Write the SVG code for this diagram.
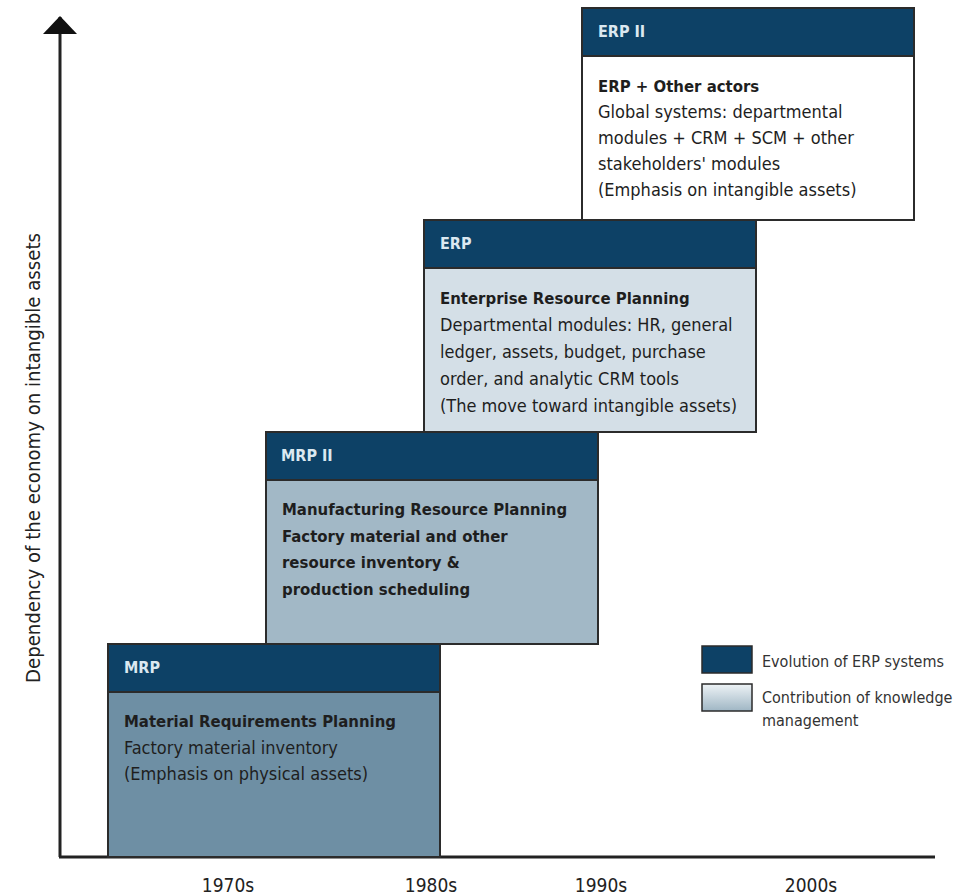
<svg xmlns="http://www.w3.org/2000/svg" width="964" height="895" viewBox="0 0 964 895">
  <defs>
    <linearGradient id="kmGrad" x1="0" y1="0" x2="0" y2="1">
      <stop offset="0" stop-color="#eef3f6"/>
      <stop offset="1" stop-color="#9fb6c4"/>
    </linearGradient>
    <marker id="axisHead" viewBox="0 0 34 18" refX="17" refY="1" markerWidth="34" markerHeight="18" markerUnits="userSpaceOnUse" orient="0">
      <path d="M0,18 L17,0 L34,18 Z" fill="#111"/>
    </marker>
  </defs>
  <style>
    .frame { stroke: #2b2b2b; stroke-width: 2; }
    .head { fill: #0d4166; }
    .headText { font-family: "DejaVu Sans Condensed", "DejaVu Sans", sans-serif; font-stretch: condensed; font-weight: bold; font-size: 16px; fill: #dbe8f0; }
    .body { font-family: "DejaVu Sans Condensed", "DejaVu Sans", sans-serif; font-stretch: condensed; font-size: 18px; fill: #1e1e1e; }
    .strong { font-weight: bold; font-size: 16.6px; }
    .axisText { font-family: "DejaVu Sans Condensed", "DejaVu Sans", sans-serif; font-stretch: condensed; font-size: 19px; fill: #222; }
    .legendText { font-family: "DejaVu Sans Condensed", "DejaVu Sans", sans-serif; font-stretch: condensed; font-size: 16px; fill: #333; }
  </style>
  <rect width="964" height="895" fill="#ffffff"/>

  <!-- axes -->
  <g id="axes">
    <path d="M60,857 L60,17" fill="none" stroke="#222" stroke-width="3" marker-end="url(#axisHead)"/>
    <path d="M59,857 L935,857" fill="none" stroke="#222" stroke-width="3"/>
    <text class="axisText" transform="translate(40,458) rotate(-90)" text-anchor="middle" font-size="17" textLength="450" lengthAdjust="spacingAndGlyphs">Dependency of the economy on intangible assets</text>
    <text class="axisText" x="228" y="892" text-anchor="middle">1970s</text>
    <text class="axisText" x="431" y="892" text-anchor="middle">1980s</text>
    <text class="axisText" x="601" y="892" text-anchor="middle">1990s</text>
    <text class="axisText" x="811" y="892" text-anchor="middle">2000s</text>
  </g>

  <!-- MRP -->
  <g id="mrp">
    <rect class="frame" x="108" y="644" width="332" height="213" fill="#6e8fa4"/>
    <rect class="head frame" x="108" y="644" width="332" height="48"/>
    <text class="headText" x="124" y="673">MRP</text>
    <text class="body" x="124" y="727"><tspan class="strong">Material Requirements Planning</tspan><tspan x="124" dy="26.5">Factory material inventory</tspan><tspan x="124" dy="26.5">(Emphasis on physical assets)</tspan></text>
  </g>

  <!-- MRP II -->
  <g id="mrp2">
    <rect class="frame" x="266" y="432" width="332" height="212" fill="#a2b8c6"/>
    <rect class="head frame" x="266" y="432" width="332" height="48"/>
    <text class="headText" x="281" y="461">MRP II</text>
    <text class="body strong" x="282" y="515"><tspan>Manufacturing Resource Planning</tspan><tspan x="282" dy="26.5">Factory material and other</tspan><tspan x="282" dy="26.5">resource inventory &amp;</tspan><tspan x="282" dy="26.5">production scheduling</tspan></text>
  </g>

  <!-- ERP -->
  <g id="erp">
    <rect class="frame" x="424" y="220" width="332" height="212" fill="#d4dfe7"/>
    <rect class="head frame" x="424" y="220" width="332" height="48"/>
    <text class="headText" x="440" y="249">ERP</text>
    <text class="body" x="440" y="304"><tspan class="strong">Enterprise Resource Planning</tspan><tspan x="440" dy="27">Departmental modules: HR, general</tspan><tspan x="440" dy="27">ledger, assets, budget, purchase</tspan><tspan x="440" dy="27">order, and analytic CRM tools</tspan><tspan x="440" dy="27">(The move toward intangible assets)</tspan></text>
  </g>

  <!-- ERP II -->
  <g id="erp2">
    <rect class="frame" x="582" y="8" width="332" height="212" fill="#ffffff"/>
    <rect class="head frame" x="582" y="8" width="332" height="48"/>
    <text class="headText" x="598" y="37">ERP II</text>
    <text class="body" x="598" y="92"><tspan class="strong">ERP + Other actors</tspan><tspan x="598" dy="26">Global systems: departmental</tspan><tspan x="598" dy="26">modules + CRM + SCM + other</tspan><tspan x="598" dy="26">stakeholders' modules</tspan><tspan x="598" dy="26">(Emphasis on intangible assets)</tspan></text>
  </g>

  <!-- legend -->
  <g id="legend">
    <rect x="702" y="646" width="50" height="27" fill="#0d4166" stroke="#2b2b2b" stroke-width="1.5"/>
    <rect x="702" y="684" width="50" height="27" fill="url(#kmGrad)" stroke="#2b2b2b" stroke-width="1.5"/>
    <text class="legendText" x="762" y="667">Evolution of ERP systems</text>
    <text class="legendText" x="762" y="703">Contribution of knowledge</text>
    <text class="legendText" x="762" y="726">management</text>
  </g>
</svg>
